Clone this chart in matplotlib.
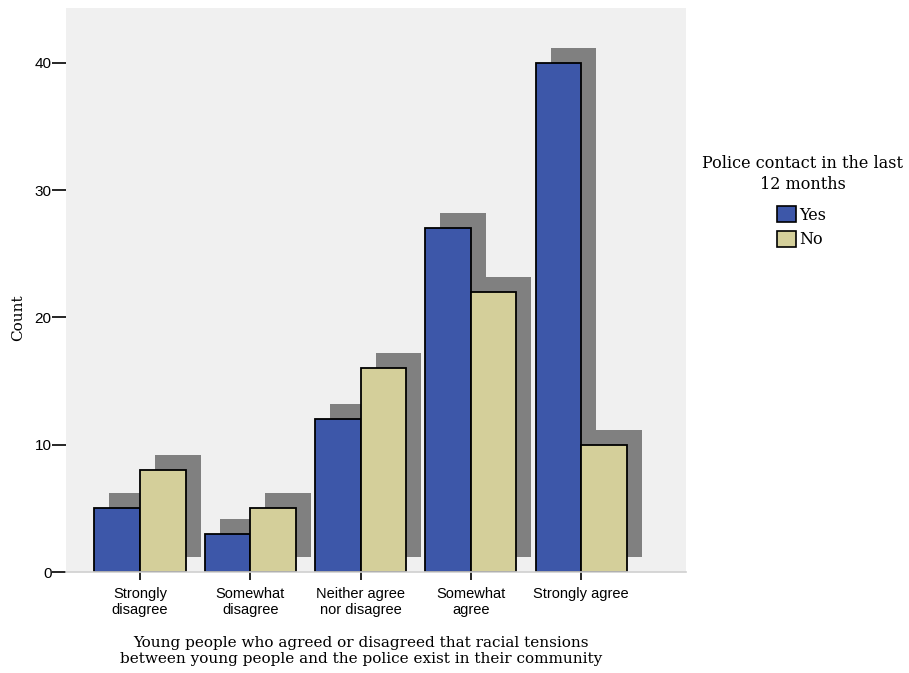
import numpy as np
import matplotlib
import matplotlib.pyplot as plt
import matplotlib.transforms as mtransforms
from matplotlib.patches import Patch
matplotlib.use('Agg')

# Data
categories = ['Strongly\ndisagree', 'Somewhat\ndisagree', 'Neither agree\nnor disagree',
              'Somewhat\nagree', 'Strongly agree']
yes_counts = [5, 3, 12, 27, 40]
no_counts = [8, 5, 16, 22, 10]
series_names = ['Yes', 'No']
y_ticks = [0, 10, 20, 30, 40]

yes_color = '#3d57a9'
no_color = '#d4cf9a'
shadow_color = '#808080'
serif = ['DejaVu Serif']
sans = ['Liberation Sans', 'DejaVu Sans']

fig = plt.figure(figsize=(9.09, 6.73), dpi=100)
W, H = 909, 673
ax = fig.add_axes([66 / W, 1 - 572 / H, 620 / W, 564 / H])
ax.set_facecolor('#f0f0f0')

x = np.arange(len(categories))
width = 0.413

# Drop shadow: same bars shifted 15px right and 15px up
shadow_tf = ax.transData + mtransforms.ScaledTranslation(15 / 100, 15 / 100, fig.dpi_scale_trans)
for offs, vals in [(-width / 2, yes_counts), (width / 2, no_counts)]:
    ax.bar(x + offs, vals, width, color=shadow_color, linewidth=0, transform=shadow_tf, zorder=1)

ax.bar(x - width / 2, yes_counts, width, color=yes_color, edgecolor='black', linewidth=1.3, zorder=2)
ax.bar(x + width / 2, no_counts, width, color=no_color, edgecolor='black', linewidth=1.3, zorder=2)

ax.set_xlim(-0.671, 4.95)
ax.set_ylim(0, 44.32)

for s in ['top', 'right', 'left']:
    ax.spines[s].set_visible(False)
ax.spines['bottom'].set_color('#d0d0d0')
ax.spines['bottom'].set_linewidth(1.2)

ax.set_yticks(y_ticks)
ax.set_yticklabels([str(t) for t in y_ticks], fontfamily=sans, fontsize=11)
ax.tick_params(axis='y', length=10, width=1.2, color='black', pad=0.5)
ax.set_xticks(x)
ax.set_xticklabels(categories, fontfamily=sans, fontsize=10.5, linespacing=1.15)
ax.tick_params(axis='x', length=6, width=1.2, color='black', pad=5)

fig.text(18 / W, 1 - 318 / H, 'Count', rotation=90, ha='center', va='center',
         fontfamily=serif, fontsize=11)
fig.text(361 / W, 1 - 651 / H,
         'Young people who agreed or disagreed that racial tensions\n'
         'between young people and the police exist in their community',
         ha='center', va='center', fontfamily=serif, fontsize=11, linespacing=1.1)

# Legend title drawn separately so its spacing to the entries can be matched
fig.text(803 / W, 1 - 174 / H, 'Police contact in the last\n12 months', ha='center', va='center',
         fontfamily=serif, fontsize=11.5, linespacing=1.25)
handles = [Patch(facecolor=yes_color, edgecolor='black', linewidth=1.2),
           Patch(facecolor=no_color, edgecolor='black', linewidth=1.2)]
fig.legend(handles, series_names, loc='upper left', bbox_to_anchor=(777 / W, 1 - 206 / H),
           frameon=False, prop={'family': serif, 'size': 11.5}, handlelength=1.2,
           handleheight=1.2, handletextpad=0.2, labelspacing=0.45, borderpad=0,
           borderaxespad=0)

plt.savefig('out.png', dpi=100)
plt.close()
